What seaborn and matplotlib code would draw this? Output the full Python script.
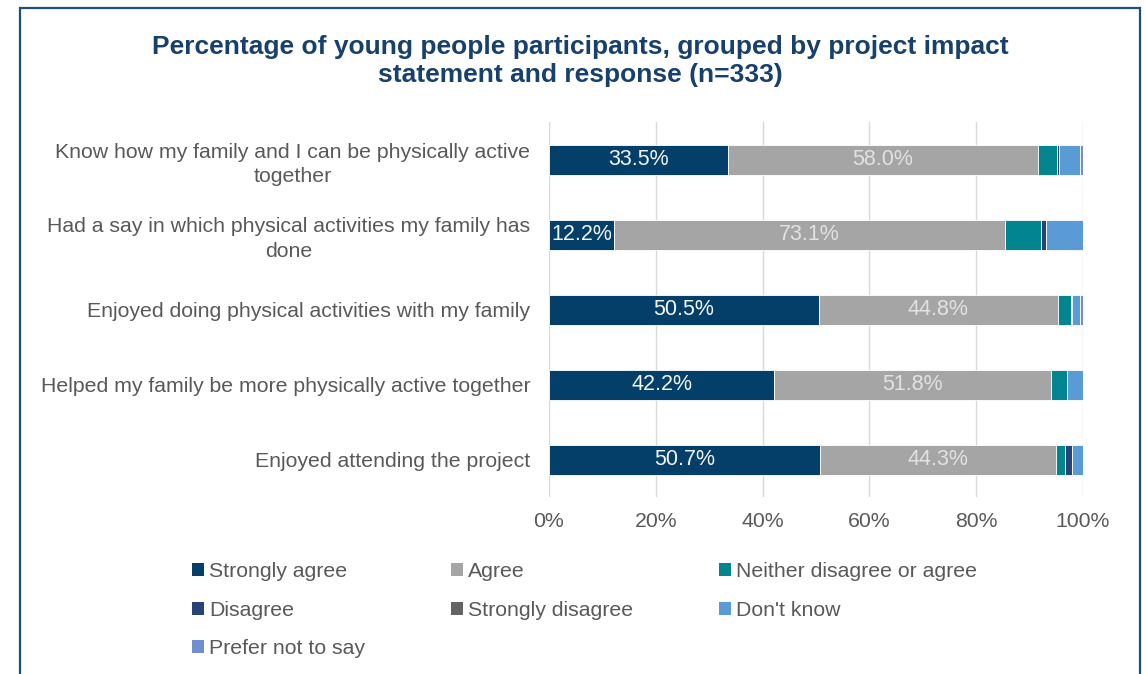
import numpy as np
import pandas as pd
import matplotlib
matplotlib.use("Agg")
import matplotlib.pyplot as plt
from matplotlib.patches import Patch, Rectangle
import seaborn as sns

statements = [
    "Know how my family and I can be physically active\ntogether",
    "Had a say in which physical activities my family has\ndone",
    "Enjoyed doing physical activities with my family",
    "Helped my family be more physically active together",
    "Enjoyed attending the project",
]
responses = ["Strongly agree", "Agree", "Neither disagree or agree", "Disagree",
             "Strongly disagree", "Don't know", "Prefer not to say"]

strongly_agree = [33.5, 12.2, 50.5, 42.2, 50.7]
agree = [58.0, 73.1, 44.8, 51.8, 44.3]
neither = [3.7, 6.8, 2.4, 3.0, 1.6]
disagree = [0.3, 1.0, 0.3, 0.0, 1.3]
strongly_disagree = [0.0, 0.0, 0.0, 0.0, 0.0]
dont_know = [3.9, 6.9, 1.5, 3.0, 2.1]
prefer_not = [0.6, 0.0, 0.5, 0.0, 0.0]

series = [strongly_agree, agree, neither, disagree, strongly_disagree, dont_know, prefer_not]
colors = ["#033F69", "#A5A5A5", "#03858F", "#264478", "#636363", "#5B9BD5", "#6F8FD2"]
labelled = {"Strongly agree": "#F4F4F4", "Agree": "#E2E2E2"}

sns.set_theme(style="white")
plt.rcParams["font.family"] = ["Liberation Sans", "DejaVu Sans"]
text_color = "#595959"
fs = 15.3

fig = plt.figure(figsize=(11.45, 6.74), dpi=100)
ax = fig.add_axes([549 / 1145, 1 - 497 / 674, (1083 - 549) / 1145, (497 - 122) / 674])

left = np.zeros(len(statements))
for name, vals, col in zip(responses, series, colors):
    df = pd.DataFrame({"statement": statements, "pct": vals})
    sns.barplot(data=df, y="statement", x="pct", orient="h", color=col,
                saturation=1, width=0.4, left=left, edgecolor="white",
                linewidth=0.6, ax=ax, zorder=3)
    if name in labelled:
        cont = ax.containers[-1]
        ax.bar_label(cont, labels=[f"{v:.1f}%" for v in vals], label_type="center",
                     color=labelled[name], fontsize=15.5)
    left = left + np.array(vals)

ax.set_xlim(0, 100)
ax.set_xticks(np.arange(0, 101, 20))
ax.set_xticklabels([f"{t}%" for t in range(0, 101, 20)])
ax.grid(axis="x", color="#D9D9D9", linewidth=1.0, zorder=0)
ax.grid(axis="y", visible=False)
ax.set_xlabel("")
ax.set_ylabel("")
for s in ax.spines.values():
    s.set_visible(False)
ax.tick_params(axis="x", length=0, pad=11, labelsize=fs, labelcolor=text_color)
ax.tick_params(axis="y", length=0, pad=13.5, labelsize=fs, labelcolor=text_color)
for lab in ax.get_yticklabels():
    lab.set_multialignment("center")
    lab.set_linespacing(1.35)

fig.text(580 / 1145, 1 - 61 / 674,
         "Percentage of young people participants, grouped by project impact\nstatement and response (n=333)",
         ha="center", va="center", fontsize=19, fontweight="bold", color="#17406D",
         linespacing=1.2)

# legend laid out row by row across three columns
handles = [Patch(facecolor=c, edgecolor="none") for c in colors]
order = [0, 3, 6, 1, 4, 2, 5]
fig.legend([handles[i] for i in order], [responses[i] for i in order],
           ncol=3, loc="upper left", bbox_to_anchor=(173 / 1145, 1 - 543 / 674),
           frameon=False, fontsize=fs, labelcolor=text_color,
           handlelength=0.55, handleheight=0.55, handletextpad=0.25,
           columnspacing=4.05, labelspacing=0.92)

fig.patches.append(Rectangle((20 / 1145, -0.05), 1120 / 1145, 1.05 - 8 / 674,
                             transform=fig.transFigure, fill=False,
                             edgecolor="#1D4F7C", linewidth=1.6))

fig.savefig("out.png", dpi=100)
